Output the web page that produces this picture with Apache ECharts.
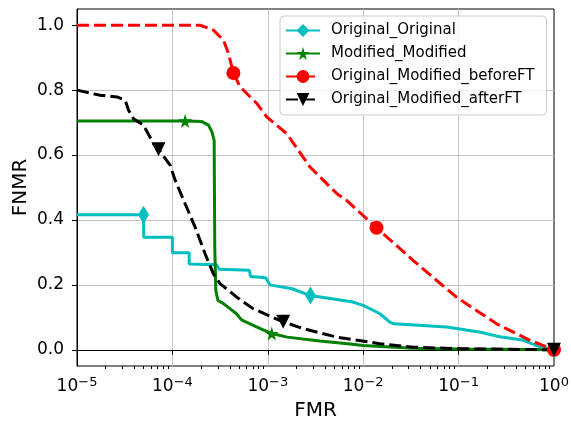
<!DOCTYPE html>
<html>
<head>
<meta charset="utf-8">
<script src="https://cdn.jsdelivr.net/npm/echarts@6.0.0/dist/echarts.min.js"></script>
<style>
  html, body { margin: 0; padding: 0; background: #fff; }
  #chart { width: 571px; height: 421px; }
</style>
</head>
<body>
<div id="chart"></div>
<script>
  // Original_Original (cyan)
  var ooX = [1e-5, 4.98e-5, 5.0e-5, 1e-4, 1e-4, 1.5e-4, 1.5e-4, 2.9e-4, 3.1e-4, 6.4e-4, 6.6e-4, 9.5e-4, 1.05e-3, 1.8e-3, 2.8e-3, 4.5e-3, 7.8e-3, 1e-2, 1.5e-2, 1.9e-2, 2.1e-2, 7.5e-2, 0.17, 0.27, 0.47, 0.7, 1];
  var ooY = [0.416, 0.416, 0.347, 0.347, 0.299, 0.299, 0.264, 0.262, 0.248, 0.245, 0.226, 0.222, 0.2, 0.188, 0.167, 0.158, 0.147, 0.137, 0.111, 0.085, 0.08, 0.07, 0.054, 0.04, 0.03, 0.01, 0];
  var ooMarks = [1, 14, 26];

  // Modified_Modified (green)
  var mmX = [1e-5, 1.36e-4, 2.04e-4, 2.39e-4, 2.6e-4, 2.74e-4, 2.78e-4, 2.85e-4, 3.0e-4, 3.4e-4, 4.7e-4, 5.3e-4, 7.7e-4, 1.1e-3, 1.6e-3, 3.5e-3, 7.3e-3, 1e-2, 3.3e-2, 0.1, 1];
  var mmY = [0.705, 0.705, 0.703, 0.692, 0.671, 0.645, 0.316, 0.183, 0.152, 0.143, 0.111, 0.092, 0.07, 0.05, 0.039, 0.027, 0.018, 0.013, 0.005, 0.002, 0];
  var mmMarks = [1, 13, 20];

  // Original_Modified_beforeFT (red)
  var bfX = [1e-5, 1.95e-4, 2.69e-4, 3.43e-4, 3.87e-4, 4.36e-4, 5.13e-4, 7.67e-4, 9.8e-4, 1.58e-3, 2.77e-3, 5.3e-3, 6.7e-3, 1.38e-2, 3.35e-2, 9.5e-2, 0.25, 0.56, 1];
  var bfY = [1.0, 1.0, 0.985, 0.954, 0.913, 0.853, 0.81, 0.759, 0.717, 0.666, 0.563, 0.481, 0.46, 0.376, 0.275, 0.162, 0.08, 0.029, 0];
  var bfMarks = [5, 13, 18];

  // Original_Modified_afterFT (black)
  var afX = [1e-5, 1.75e-5, 2.62e-5, 3.2e-5, 3.47e-5, 3.91e-5, 4.98e-5, 6.34e-5, 7.15e-5, 9.5e-5, 1.07e-4, 1.36e-4, 1.73e-4, 2.2e-4, 2.69e-4, 3.16e-4, 4.73e-4, 7.07e-4, 1.45e-3, 2.36e-3, 5.3e-3, 1.5e-2, 3.35e-2, 0.112, 1];
  var afY = [0.8, 0.784, 0.779, 0.769, 0.738, 0.712, 0.692, 0.635, 0.618, 0.568, 0.522, 0.45, 0.378, 0.296, 0.234, 0.204, 0.162, 0.126, 0.086, 0.065, 0.039, 0.0185, 0.008, 0.003, 0];
  var afMarks = [8, 18, 24];

  var yTicks = [0, 0.2, 0.4, 0.6, 0.8, 1.0];

  // minor ticks of the log axis (2..9 in each decade)
  var minorTicks = [];
  for (var e = -5; e < 0; e++) {
    for (var m = 2; m < 10; m++) {
      minorTicks.push(m * Math.pow(10, e));
    }
  }

  var FONT = "DejaVu Sans";
  var STAR = "path://M50,0 L61,35 L98,35 L68,57 L79,91 L50,70 L21,91 L32,57 L2,35 L39,35 Z";

  function zip(xs, ys) {
    return xs.map(function (x, i) { return [x, ys[i]]; });
  }

  function makeSeries(name, xs, ys, marks, color, dash, symbol, size, rotate) {
    return {
      name: name,
      type: "line",
      data: zip(xs, ys),
      showSymbol: true,
      showAllSymbol: true,
      symbol: symbol,
      symbolRotate: rotate || 0,
      symbolSize: function (val, params) {
        return marks.indexOf(params.dataIndex) >= 0 ? size : 0;
      },
      itemStyle: { color: color },
      lineStyle: { color: color, width: 3, type: dash ? [12, 5] : "solid" },
      emphasis: { disabled: true },
    };
  }

  var chart = echarts.init(document.getElementById("chart"));
  chart.setOption({
    animation: false,
    backgroundColor: "#fff",
    textStyle: { fontFamily: FONT },
    grid: {
      left: 77,
      right: 17,
      top: 9,
      bottom: 55,
      outerBoundsMode: "none",
      containLabel: false,
      show: true,
      borderColor: "#000",
      borderWidth: 1,
      backgroundColor: "transparent",
    },
    legend: {
      orient: "vertical",
      left: 280,
      top: 16,
      padding: [7, 12, 8, 5],
      itemWidth: 34,
      itemHeight: 16,
      itemGap: 8,
      backgroundColor: "rgba(255,255,255,0.8)",
      borderColor: "#cccccc",
      borderWidth: 1,
      borderRadius: 4,
      textStyle: { fontFamily: FONT, fontSize: 15, color: "#000", padding: [0, 0, 0, 6] },
      data: ["Original_Original", "Modified_Modified", "Original_Modified_beforeFT", "Original_Modified_afterFT"],
    },
    xAxis: [
      {
        type: "log",
        logBase: 10,
        min: 1e-5,
        max: 1,
        name: "FMR",
        nameLocation: "middle",
        nameGap: 35,
        nameMoveOverlap: false,
        nameTextStyle: { fontFamily: FONT, fontSize: 20, color: "#000" },
        axisLine: { show: true, lineStyle: { color: "#000", width: 1 } },
        axisTick: { show: true, length: 5, lineStyle: { color: "#000" } },
        axisLabel: {
          margin: 7,
          color: "#000",
          formatter: function (v) {
            var p = Math.round(Math.log10(v));
            return "{b|10}{s|" + (p < 0 ? "\u2212" + (-p) : p) + "}";
          },
          rich: {
            b: { fontFamily: FONT, fontSize: 17, lineHeight: 17, padding: [10, 0, 0, 0], color: "#000" },
            s: { fontFamily: FONT, fontSize: 13, lineHeight: 13, padding: [8, 0, 6, 0], color: "#000" },
          },
        },
        splitLine: { show: true, showMinLine: false, showMaxLine: false, lineStyle: { color: "#c4c4c4", width: 1 } },
      },
      {
        type: "log",
        logBase: 10,
        min: 1e-5,
        max: 1,
        position: "bottom",
        axisLine: { show: false },
        axisLabel: { show: false },
        splitLine: { show: false },
        axisTick: { show: true, length: 3, customValues: minorTicks, lineStyle: { color: "#000" } },
      },
    ],
    yAxis: {
      type: "value",
      min: -0.05,
      max: 1.05,
      name: "FNMR",
      nameLocation: "middle",
      nameGap: 46,
      nameMoveOverlap: false,
      nameTextStyle: { fontFamily: FONT, fontSize: 20, color: "#000" },
      axisLine: { show: true, lineStyle: { color: "#000", width: 1 } },
      axisTick: { show: true, length: 5, customValues: yTicks, lineStyle: { color: "#000" } },
      axisLabel: {
        customValues: yTicks,
        margin: 13,
        fontFamily: FONT,
        fontSize: 17,
        color: "#000",
        formatter: function (v) { return v.toFixed(1); },
      },
      splitLine: { show: true, showMinLine: false, showMaxLine: false, lineStyle: { color: "#c4c4c4", width: 1 } },
    },
    series: [
      makeSeries("Original_Original", ooX, ooY, ooMarks, "#00bfbf", false, "diamond", [11, 18]),
      makeSeries("Modified_Modified", mmX, mmY, mmMarks, "#008000", false, STAR, 14),
      makeSeries("Original_Modified_beforeFT", bfX, bfY, bfMarks, "#ff0000", true, "circle", 14),
      makeSeries("Original_Modified_afterFT", afX, afY, afMarks, "#000000", true, "triangle", 14, 180),
    ],
  });
</script>
</body>
</html>
